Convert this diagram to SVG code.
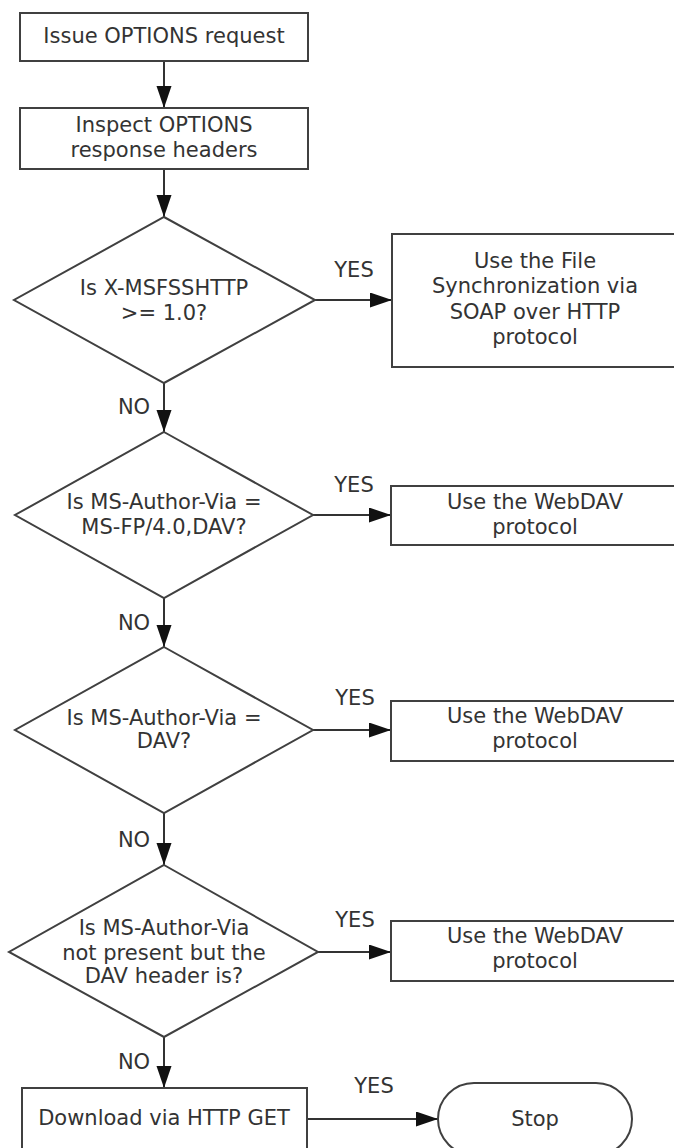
<svg xmlns="http://www.w3.org/2000/svg" width="674" height="1148" viewBox="0 0 674 1148">
<style>
.n{fill:#fff;stroke:#404040;stroke-width:2}
.t{font-family:"DejaVu Sans","Liberation Sans",sans-serif;font-size:21px;fill:#333;text-anchor:middle}
.c{stroke:#333;stroke-width:2;fill:none;marker-end:url(#ah)}
</style>
<defs>
<marker id="ah" markerUnits="userSpaceOnUse" markerWidth="24" markerHeight="16" refX="22" refY="7.5" orient="auto">
<path d="M0,0 L22,7.5 L0,15 Z" fill="#111"/>
</marker>
</defs>
<rect width="674" height="1148" fill="#fff"/>
<g id="connectors">
<line class="c" x1="164" y1="61" x2="164" y2="108"/>
<line class="c" x1="164" y1="169" x2="164" y2="217"/>
<line class="c" x1="164" y1="383" x2="164" y2="432"/>
<line class="c" x1="164" y1="598" x2="164" y2="647"/>
<line class="c" x1="164" y1="813" x2="164" y2="865"/>
<line class="c" x1="164" y1="1037" x2="164" y2="1088"/>
<line class="c" x1="315" y1="300" x2="392" y2="300"/>
<line class="c" x1="313" y1="515" x2="391" y2="515"/>
<line class="c" x1="313" y1="730" x2="391" y2="730"/>
<line class="c" x1="318" y1="952" x2="391" y2="952"/>
<line class="c" x1="307" y1="1119" x2="438" y2="1119"/>
<text class="t" x="354" y="277">YES</text>
<text class="t" x="354" y="492">YES</text>
<text class="t" x="355" y="705">YES</text>
<text class="t" x="355" y="927">YES</text>
<text class="t" x="374" y="1093">YES</text>
<text class="t" x="134" y="414">NO</text>
<text class="t" x="134" y="630">NO</text>
<text class="t" x="134" y="847">NO</text>
<text class="t" x="134" y="1069">NO</text>
</g>
<g id="issue">
<rect class="n" x="20" y="13" width="288" height="48"/>
<text class="t" x="164" y="43">Issue OPTIONS request</text>
</g>
<g id="inspect">
<rect class="n" x="20" y="108" width="288" height="61"/>
<text class="t" x="164" y="132">Inspect OPTIONS</text>
<text class="t" x="164" y="157">response headers</text>
</g>
<g id="d1">
<polygon class="n" points="164,217 315,300 164,383 14,300"/>
<text class="t" x="164" y="295">Is X-MSFSSHTTP</text>
<text class="t" x="164" y="320">&gt;= 1.0?</text>
</g>
<g id="fssoap">
<rect class="n" x="392" y="234" width="288" height="133"/>
<text class="t" x="535" y="268">Use the File</text>
<text class="t" x="535" y="293">Synchronization via</text>
<text class="t" x="535" y="319">SOAP over HTTP</text>
<text class="t" x="535" y="344">protocol</text>
</g>
<g id="d2">
<polygon class="n" points="164,432 313,515 164,598 15,515"/>
<text class="t" x="164" y="509">Is MS-Author-Via =</text>
<text class="t" x="164" y="534">MS-FP/4.0,DAV?</text>
</g>
<g id="webdav1">
<rect class="n" x="391" y="486" width="288" height="59"/>
<text class="t" x="535" y="509">Use the WebDAV</text>
<text class="t" x="535" y="534">protocol</text>
</g>
<g id="d3">
<polygon class="n" points="164,647 313,730 164,813 15,730"/>
<text class="t" x="164" y="725">Is MS-Author-Via =</text>
<text class="t" x="164" y="748">DAV?</text>
</g>
<g id="webdav2">
<rect class="n" x="391" y="701" width="288" height="60"/>
<text class="t" x="535" y="723">Use the WebDAV</text>
<text class="t" x="535" y="748">protocol</text>
</g>
<g id="d4">
<polygon class="n" points="164,865 318,952 164,1037 9,952"/>
<text class="t" x="164" y="935">Is MS-Author-Via</text>
<text class="t" x="164" y="960">not present but the</text>
<text class="t" x="164" y="983">DAV header is?</text>
</g>
<g id="webdav3">
<rect class="n" x="391" y="921" width="288" height="60"/>
<text class="t" x="535" y="943">Use the WebDAV</text>
<text class="t" x="535" y="968">protocol</text>
</g>
<g id="download">
<rect class="n" x="22" y="1088" width="285" height="62"/>
<text class="t" x="164" y="1125">Download via HTTP GET</text>
</g>
<g id="stop">
<rect class="n" x="438" y="1083" width="194" height="72" rx="36" ry="36"/>
<text class="t" x="535" y="1126">Stop</text>
</g>
</svg>
